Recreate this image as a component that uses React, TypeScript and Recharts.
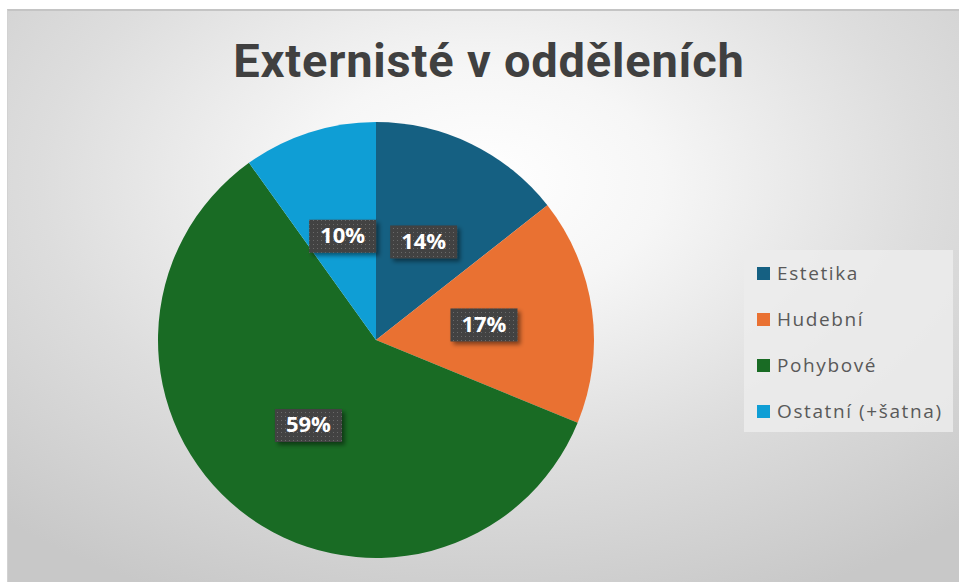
import { Cell, Legend, Pie, PieChart } from "recharts";

const categories = ["Estetika", "Hudební", "Pohybové", "Ostatní (+šatna)"];
const shares = [14.4, 16.8, 58.9, 9.9];
const colors = ["#156082", "#E97132", "#196B24", "#0F9ED5"];
const title = "Externisté v odděleních";

const data = categories.map((name, i) => ({ name, value: shares[i] }));

const RADIAN = Math.PI / 180;

function PercentLabel(props: any) {
  const { cx, cy, midAngle, outerRadius, percent } = props;
  const r = outerRadius * 0.5;
  const x = cx + r * Math.cos(-midAngle * RADIAN);
  const y = cy + r * Math.sin(-midAngle * RADIAN);
  const w = 67;
  const h = 33;
  return (
    <g>
      <rect x={x - w / 2} y={y - h / 2} width={w} height={h} fill="#424242" filter="url(#lblShadow)" />
      <rect x={x - w / 2} y={y - h / 2} width={w} height={h} fill="url(#dots)" />
      <text
        x={x}
        y={y + 1}
        textAnchor="middle"
        dominantBaseline="middle"
        fill="#ffffff"
        fontFamily="'Open Sans', sans-serif"
        fontWeight={700}
        fontSize={22}
      >
        {`${Math.round(percent * 100)}%`}
      </text>
    </g>
  );
}

function LegendBox() {
  return (
    <div
      style={{
        background: "rgba(236,236,236,0.85)",
        width: 209,
        height: 182,
        boxSizing: "border-box",
        padding: "0 0 0 13px",
        fontFamily: "'Open Sans', sans-serif",
        fontSize: 19,
        letterSpacing: 1.6,
        color: "#595959",
      }}
    >
      {categories.map((c, i) => (
        <div key={c} style={{ display: "flex", alignItems: "center", height: 46 }}>
          <span style={{ width: 13, height: 13, background: colors[i], marginRight: 7, flexShrink: 0 }} />
          <span>{c}</span>
        </div>
      ))}
    </div>
  );
}

export default function App() {
  return (
    <div style={{ position: "absolute", left: 0, top: 0, width: 959, height: 582, background: "#ffffff" }}>
      <style>{`.recharts-pie-sectors { filter: drop-shadow(0 0 6px rgba(0,0,0,0.25)); }`}</style>
      <div
        style={{
          position: "absolute",
          left: 7,
          top: 9,
          width: 952,
          height: 573,
          borderTop: "2px solid #c4c4c4",
          borderLeft: "1px solid #d2d2d2",
          boxSizing: "border-box",
          background:
            "radial-gradient(ellipse 75% 80% at 50% 30%, #ffffff 0%, #f6f6f6 25%, #dddddd 62%, #c8c8c8 100%)",
        }}
      >
        <div
          style={{
            position: "absolute",
            left: 0,
            width: 952,
            top: 22,
            textAlign: "center",
            fontFamily: "Roboto, sans-serif",
            fontWeight: 700,
            fontSize: 47,
            letterSpacing: 0.8,
            color: "#404040",
            paddingLeft: 10,
            boxSizing: "border-box",
          }}
        >
          {title}
        </div>
        <PieChart width={952} height={571} style={{ position: "absolute", left: 0, top: 0 }}>
          <defs>
            <filter id="lblShadow" x="-20%" y="-30%" width="150%" height="180%">
              <feDropShadow dx="3" dy="3" stdDeviation="2" floodColor="#000" floodOpacity="0.45" />
            </filter>
            <pattern id="dots" width="4" height="4" patternUnits="userSpaceOnUse">
              <rect x="1" y="1" width="1" height="1" fill="#6a6a6a" />
            </pattern>
          </defs>
          <Pie
            data={data}
            dataKey="value"
            nameKey="name"
            cx={363}
            cy={324}
            outerRadius={218}
            startAngle={90}
            endAngle={-270}
            stroke="none"
            label={PercentLabel}
            labelLine={false}
            isAnimationActive={false}
          >
            {data.map((d, i) => (
              <Cell key={d.name} fill={colors[i]} />
            ))}
          </Pie>
          <Legend
            layout="vertical"
            align="right"
            verticalAlign="top"
            content={() => <LegendBox />}
            wrapperStyle={{ left: 736, top: 239, width: 209 }}
          />
        </PieChart>
      </div>
    </div>
  );
}
